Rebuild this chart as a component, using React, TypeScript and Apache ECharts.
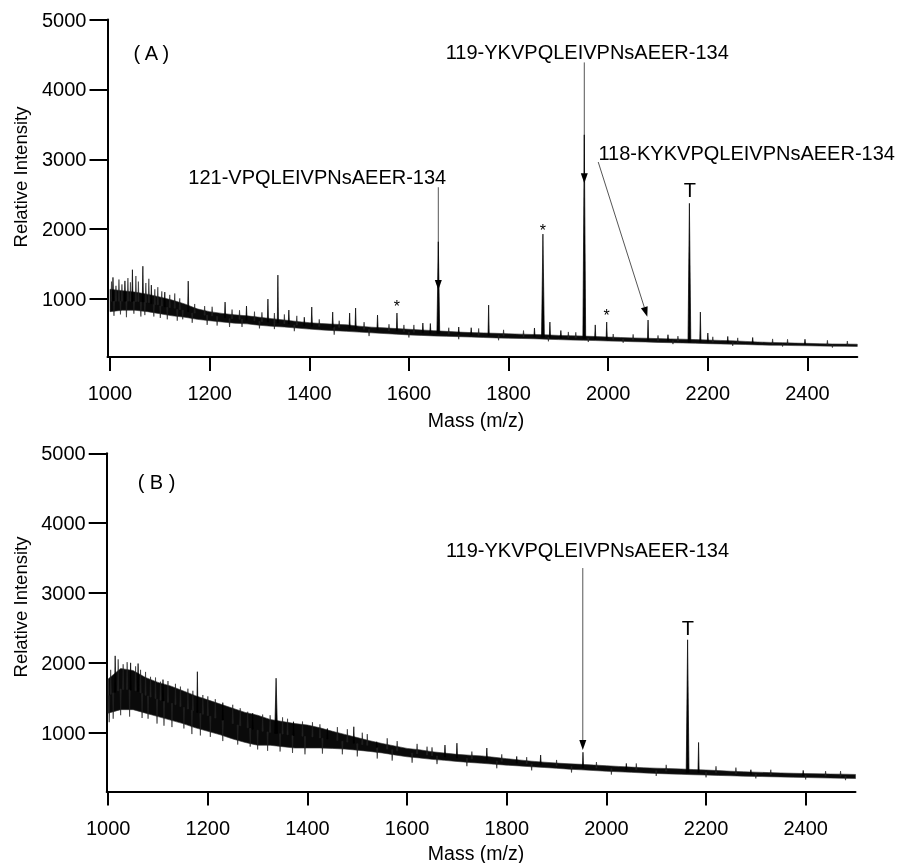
import React, { useEffect, useRef } from "react";
import * as echarts from "echarts";

// ---------- data ----------
const massGrid = [
  1000, 1025, 1050, 1075, 1100, 1125, 1150, 1175, 1200, 1225, 1250, 1275, 1300, 1325, 1350, 1375,
  1400, 1425, 1450, 1475, 1500, 1525, 1550, 1575, 1600, 1625, 1650, 1675, 1700, 1725, 1750, 1775,
  1800, 1825, 1850, 1875, 1900, 1925, 1950, 1975, 2000, 2025, 2050, 2075, 2100, 2125, 2150, 2175,
  2200, 2225, 2250, 2275, 2300, 2325, 2350, 2375, 2400, 2425, 2450, 2475, 2500,
];
// panel A: dense core of the noise trace (upper / lower edge)
const upperA = [
  1140, 1120, 1100, 1070, 1030, 985, 930, 860, 820, 795, 775, 760, 740, 720, 700, 680,
  662, 650, 640, 632, 612, 598, 588, 578, 568, 558, 548, 538, 528, 520, 516, 510,
  503, 498, 493, 488, 480, 476, 470, 464, 456, 450, 444, 440, 434, 430, 426, 420,
  414, 408, 402, 394, 386, 380, 376, 370, 366, 362, 358, 356, 354,
];
const lowerA = [
  820, 840, 840, 820, 790, 760, 740, 710, 690, 672, 655, 645, 625, 610, 600, 585,
  570, 558, 548, 538, 527, 517, 507, 497, 487, 480, 472, 467, 462, 456, 450, 444,
  440, 436, 432, 426, 420, 414, 410, 406, 400, 396, 390, 386, 380, 376, 372, 368,
  362, 358, 354, 350, 344, 340, 338, 334, 332, 328, 326, 324, 322,
];
// panel B: dense core of the noise trace
const upperB = [
  1770, 1920, 1890, 1790, 1720, 1670, 1600, 1530, 1470, 1410, 1350, 1290, 1250, 1190, 1160, 1130,
  1110, 1070, 1020, 975, 930, 885, 845, 810, 775, 755, 728, 708, 690, 678, 668, 648,
  628, 610, 592, 578, 565, 555, 547, 537, 527, 517, 507, 498, 492, 486, 481, 472,
  466, 457, 448, 441, 435, 429, 424, 419, 415, 412, 408, 406, 402,
];
const lowerB = [
  1280, 1330, 1330, 1280, 1230, 1180, 1130, 1070, 1020, 970, 910, 860, 820, 820, 800, 780,
  780, 780, 775, 765, 750, 732, 710, 682, 655, 638, 618, 604, 588, 574, 562, 548,
  535, 524, 512, 502, 490, 478, 468, 458, 448, 440, 432, 424, 416, 410, 404, 398,
  393, 388, 383, 378, 374, 370, 366, 362, 358, 354, 350, 347, 344,
];
// peaks: [mass, top intensity, foot intensity]
const peaksA: [number, number, number][] = [
  [1952, 3350, 440], [1659, 1820, 508], [1869, 1930, 455], [2163, 2370, 385], [2080, 700, 415],
  [1576, 800, 548], [1760, 914, 480], [1997, 671, 428], [2185, 814, 385], [1974, 630, 432],
  [1006, 1310, 975], [1030, 1260, 970], [1045, 1420, 968], [1066, 1470, 960], [1083, 1200, 935],
  [1110, 1100, 890], [1157, 1257, 820], [1231, 957, 735], [1274, 900, 700], [1317, 1000, 670],
  [1337, 1343, 660], [1359, 843, 645], [1405, 886, 612], [1447, 814, 595], [1481, 800, 585],
  [1493, 871, 578], [1537, 771, 560], [1628, 657, 518], [1643, 650, 512], [1852, 586, 462],
  [1883, 671, 455], [2200, 514, 388], [1725, 590, 488], [1905, 550, 450], [2240, 465, 378],
  [2290, 450, 367], [2395, 425, 350], [1390, 740, 620], [1700, 600, 495], [2120, 490, 405],
];
// small noise excursions above / below the core: [mass, tip, foot]
const noiseA: [number, number, number][] = [
  [1003, 1250, 970], [1012, 1190, 970], [1018, 1280, 970], [1024, 1210, 970], [1036, 1300, 970],
  [1041, 1240, 970], [1052, 1330, 965], [1057, 1250, 965], [1072, 1230, 950], [1078, 1290, 950],
  [1090, 1140, 920], [1096, 1170, 920], [1104, 1110, 900], [1120, 1060, 880], [1130, 1080, 870],
  [1140, 1010, 850], [1008, 760, 970], [1021, 780, 970], [1033, 740, 970], [1048, 790, 965],
  [1062, 750, 955], [1070, 770, 950], [1088, 750, 920], [1101, 730, 900], [1115, 710, 880],
  [1135, 690, 850], [1146, 710, 840], [1170, 930, 800], [1190, 900, 770], [1205, 890, 760],
  [1245, 850, 720], [1260, 840, 710], [1290, 820, 690], [1305, 810, 680], [1330, 800, 670],
  [1350, 780, 650], [1375, 760, 630], [1165, 660, 800], [1195, 630, 770], [1215, 620, 750],
  [1240, 600, 720], [1265, 600, 710], [1300, 580, 680], [1330, 570, 665], [1370, 540, 630],
  [1420, 710, 610], [1460, 690, 595], [1510, 670, 568], [1560, 640, 550], [1590, 630, 535],
  [1610, 630, 525], [1680, 590, 502], [1740, 580, 483], [1790, 560, 474], [1830, 550, 466],
  [1920, 530, 446], [1935, 525, 444], [2010, 500, 426], [2050, 495, 418], [2100, 480, 407],
  [2140, 470, 400], [2210, 460, 385], [2260, 445, 378], [2330, 430, 360], [2360, 425, 357],
  [2440, 410, 345], [2480, 400, 340], [1450, 490, 595], [1520, 470, 565], [1600, 450, 528],
  [1700, 425, 495], [1780, 410, 475], [1880, 395, 452], [1960, 385, 438], [2030, 375, 424],
  [2130, 355, 402], [2250, 330, 377], [2350, 320, 357], [2450, 305, 343],
];
const peaksB: [number, number, number][] = [
  [1953, 720, 500], [2163, 2330, 430], [2185, 860, 430], [1868, 680, 545], [1337, 1780, 990],
  [1179, 1873, 1290], [1014, 2100, 1580], [1493, 1085, 850], [1372, 1157, 960], [1539, 870, 790],
  [1676, 823, 655], [1700, 850, 640], [1760, 780, 610], [1440, 1060, 910], [1045, 2000, 1610],
  [1060, 1990, 1590], [1110, 1760, 1455], [1230, 1430, 1180], [1290, 1280, 1050], [2290, 470, 405],
  [2395, 460, 387], [2040, 560, 475], [1820, 660, 565],
];
const noiseB: [number, number, number][] = [
  [1005, 1900, 1550], [1020, 2050, 1600], [1030, 1980, 1620], [1038, 2010, 1620], [1055, 1950, 1600],
  [1065, 1900, 1570], [1075, 1870, 1535], [1085, 1800, 1510], [1095, 1790, 1490], [1105, 1730, 1465],
  [1120, 1740, 1435], [1135, 1700, 1400], [1145, 1660, 1375], [1160, 1630, 1340], [1170, 1600, 1315],
  [1190, 1540, 1265], [1200, 1520, 1245], [1215, 1480, 1210], [1250, 1400, 1130], [1265, 1350, 1100],
  [1280, 1300, 1070], [1310, 1260, 1020], [1325, 1250, 1005], [1350, 1220, 980], [1360, 1200, 970],
  [1390, 1160, 950], [1410, 1150, 940], [1425, 1120, 925], [1460, 1080, 890], [1480, 1050, 865],
  [1510, 1000, 830], [1520, 980, 820], [1560, 920, 765], [1580, 880, 740], [1620, 840, 700],
  [1640, 800, 680], [1650, 790, 673], [1730, 730, 625], [1790, 690, 590], [1840, 650, 557],
  [1900, 610, 527], [1980, 580, 495], [2060, 560, 470], [2120, 540, 450], [2220, 520, 425],
  [2260, 500, 415], [2330, 470, 400], [2440, 450, 382], [2470, 450, 378],
  [1002, 1150, 1530], [1010, 1200, 1570], [1025, 1250, 1625], [1043, 1230, 1615], [1068, 1210, 1560],
  [1080, 1200, 1525], [1098, 1130, 1480], [1112, 1100, 1450], [1128, 1080, 1420], [1152, 1060, 1360],
  [1168, 980, 1320], [1185, 960, 1275], [1205, 940, 1235], [1230, 880, 1180], [1260, 830, 1110],
  [1285, 800, 1060], [1300, 760, 1035], [1320, 740, 1010], [1345, 730, 985], [1370, 710, 960],
  [1395, 690, 947], [1430, 700, 920], [1470, 690, 877], [1500, 660, 842], [1540, 630, 790],
  [1570, 600, 755], [1610, 570, 708], [1660, 550, 667], [1720, 520, 630], [1780, 490, 595],
  [1850, 460, 552], [1930, 430, 515], [2010, 400, 484], [2100, 380, 454], [2200, 360, 430],
  [2300, 345, 404], [2400, 330, 386], [2480, 320, 375],
];
const xTicks = [1000, 1200, 1400, 1600, 1800, 2000, 2200, 2400];
const yTicks = [1000, 2000, 3000, 4000, 5000];

// annotations in data coordinates
const labelsA = [
  { text: "( A )", m: 1083, v: 4514, size: 20 },
  { text: "119-YKVPQLEIVPNsAEER-134", m: 1958, v: 4529, size: 20 },
  { text: "121-VPQLEIVPNsAEER-134", m: 1416, v: 2743, size: 20 },
  { text: "118-KYKVPQLEIVPNsAEER-134", m: 2278, v: 3086, size: 20 },
  { text: "T", m: 2164, v: 2557, size: 20 },
  { text: "*", m: 1576, v: 890, size: 16 },
  { text: "*", m: 1869, v: 1975, size: 16 },
  { text: "*", m: 1997, v: 760, size: 16 },
];
const arrowsA: [number, number, number, number][] = [
  [1659, 2600, 1659, 1129],
  [1952, 4386, 1952, 2657],
  [1980, 2961, 2078.5, 747],
];
const labelsB = [
  { text: "( B )", m: 1097, v: 4588, size: 20 },
  { text: "119-YKVPQLEIVPNsAEER-134", m: 1962, v: 3615, size: 20 },
  { text: "T", m: 2163.5, v: 2498, size: 20 },
];
const arrowsB: [number, number, number, number][] = [[1952.6, 3357, 1952.6, 752]];

const FONT = "'Liberation Sans', Arial, Helvetica, sans-serif";

function mkX(gi: number, min: number, max: number) {
  return {
    type: "value",
    gridIndex: gi,
    min,
    max,
    axisLine: { show: true, onZero: false, lineStyle: { color: "#000", width: 2 } },
    axisTick: { show: true, length: 14, lineStyle: { color: "#000", width: 2 }, customValues: xTicks },
    axisLabel: {
      show: true, customValues: xTicks, margin: 26, color: "#000", fontSize: 20, fontFamily: FONT,
      formatter: (v: number) => String(v),
    },
    splitLine: { show: false },
  };
}
function mkY(gi: number, min: number) {
  return {
    type: "value",
    gridIndex: gi,
    min,
    max: 5000,
    axisLine: { show: true, onZero: false, lineStyle: { color: "#000", width: 2 } },
    axisTick: { show: true, length: 18, lineStyle: { color: "#000", width: 2 }, customValues: yTicks },
    axisLabel: {
      show: true, customValues: yTicks, margin: 21, color: "#000", fontSize: 20, fontFamily: FONT,
      formatter: (v: number) => String(v),
    },
    splitLine: { show: false },
  };
}
function band(gi: number, upper: number[], lower: number[]) {
  return {
    type: "custom",
    xAxisIndex: gi,
    yAxisIndex: gi,
    clip: true,
    silent: true,
    data: [[massGrid[0], upper[0]]],
    renderItem: (_p: any, api: any) => {
      const pts: number[][] = [];
      for (let i = 0; i < massGrid.length; i++) pts.push(api.coord([massGrid[i], upper[i]]));
      for (let i = massGrid.length - 1; i >= 0; i--) pts.push(api.coord([massGrid[i], lower[i]]));
      return { type: "polygon", shape: { points: pts }, style: { fill: "#0a0a0a", stroke: "#333", lineWidth: 0.6 } };
    },
  };
}
function spikes(gi: number, list: [number, number, number][], color: string, lw: number) {
  return {
    type: "custom",
    xAxisIndex: gi,
    yAxisIndex: gi,
    clip: true,
    silent: true,
    data: list,
    renderItem: (_p: any, api: any) => {
      const m = api.value(0);
      const t = api.coord([m, api.value(1)]);
      const f = api.coord([m, api.value(2)]);
      const hw = api.value(1) > 1500 && api.value(1) > api.value(2) + 600 ? 1.4 : 0.6;
      return {
        type: "polygon",
        shape: { points: [[t[0] - hw, f[1]], [t[0], t[1]], [t[0] + hw, f[1]]] },
        style: { fill: color, stroke: color, lineWidth: lw },
      };
    },
  };
}

export default function App() {
  const ref = useRef<HTMLDivElement>(null);
  useEffect(() => {
    const chart = echarts.init(ref.current!, null, { renderer: "svg" });
    chart.setOption({
      animation: false,
      grid: [
        { left: 107.5, top: 19.5, width: 749.8, height: 337.5 },
        { left: 106.7, top: 453.3, width: 748.8, height: 338.2 },
      ],
      xAxis: [mkX(0, 995, 2500), mkX(1, 997, 2500)],
      yAxis: [mkY(0, 171), mkY(1, 158)],
      series: [
        band(0, upperA, lowerA),
        spikes(0, noiseA, "#222", 0.6),
        spikes(0, peaksA, "#000", 0.7),
        band(1, upperB, lowerB),
        spikes(1, noiseB, "#222", 0.6),
        spikes(1, peaksB, "#000", 0.7),
      ],
    });

    const els: any[] = [];
    const addPanel = (gi: number, labels: any[], arrows: [number, number, number, number][]) => {
      labels.forEach((l) => {
        const p = chart.convertToPixel({ gridIndex: gi }, [l.m, l.v]) as number[];
        els.push({
          type: "text",
          x: p[0],
          y: p[1],
          style: { text: l.text, fill: "#000", fontSize: l.size, fontFamily: FONT, align: "center", verticalAlign: "middle" },
        });
      });
      arrows.forEach((a) => {
        const p1 = chart.convertToPixel({ gridIndex: gi }, [a[0], a[1]]) as number[];
        const p2 = chart.convertToPixel({ gridIndex: gi }, [a[2], a[3]]) as number[];
        const dx = p2[0] - p1[0];
        const dy = p2[1] - p1[1];
        const len = Math.sqrt(dx * dx + dy * dy);
        const ux = dx / len;
        const uy = dy / len;
        const hl = 10;
        const hw = 3.5;
        const bx = p2[0] - ux * hl;
        const by = p2[1] - uy * hl;
        els.push({
          type: "line",
          shape: { x1: p1[0], y1: p1[1], x2: bx, y2: by },
          style: { stroke: "#555", lineWidth: 1 },
        });
        els.push({
          type: "polygon",
          shape: { points: [[p2[0], p2[1]], [bx - uy * hw, by + ux * hw], [bx + uy * hw, by - ux * hw]] },
          style: { fill: "#000" },
        });
      });
    };
    addPanel(0, labelsA, arrowsA);
    addPanel(1, labelsB, arrowsB);

    // axis titles
    const titles = [
      { text: "Mass (m/z)", x: 476, y: 420, rot: 0 },
      { text: "Mass (m/z)", x: 476, y: 853, rot: 0 },
      { text: "Relative Intensity", x: 20, y: 177, rot: Math.PI / 2 },
      { text: "Relative Intensity", x: 20, y: 607, rot: Math.PI / 2 },
    ];
    titles.forEach((t) => {
      els.push({
        type: "text",
        x: t.x,
        y: t.y,
        rotation: t.rot,
        style: { text: t.text, fill: "#000", fontSize: t.rot ? 18.5 : 19.5, fontFamily: FONT, align: "center", verticalAlign: "middle" },
      });
    });
    chart.setOption({ graphic: els });
    return () => chart.dispose();
  }, []);
  return <div ref={ref} style={{ position: "fixed", left: 0, top: 0, width: 897, height: 863 }} />;
}
